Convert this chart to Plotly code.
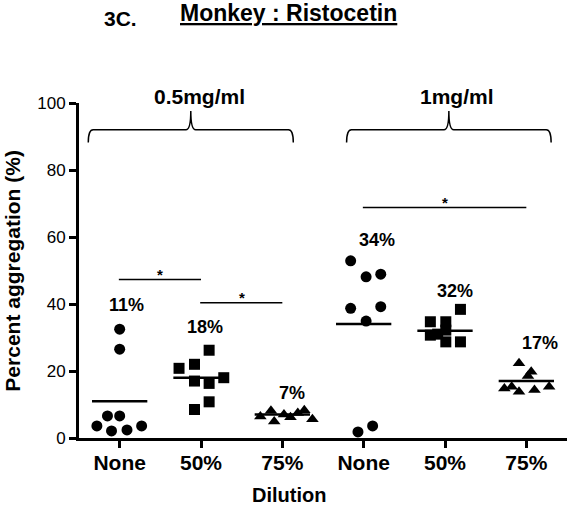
import plotly.graph_objects as go

# ---------------- data ----------------
positions = [1, 2, 3, 4, 5, 6]
tick_labels = ["None", "50%", "75%", "None", "50%", "75%"]
group_names = ["0.5mg/ml", "1mg/ml"]

none_05 = [32.5, 26.5, 3.6, 6.6, 6.6, 2.1, 2.4, 3.6]
d50_05 = [26.2, 22.0, 20.8, 17.0, 16.3, 18.0, 10.8, 8.5]
d75_05 = [6.4, 8.1, 4.9, 7.0, 6.2, 7.5, 8.3, 5.6]
none_1 = [52.9, 48.1, 48.9, 38.7, 39.2, 34.9, 1.8, 3.6]
d50_1 = [38.4, 34.7, 34.7, 30.7, 32.2, 28.7, 28.7, 31.0]
d75_1 = [22.3, 19.8, 18.5, 14.8, 15.3, 13.8, 14.3, 15.3]
series = [none_05, d50_05, d75_05, none_1, d50_1, d75_1]

means = [11, 18, 7, 34, 32, 17]
mean_labels = ["11%", "18%", "7%", "34%", "32%", "17%"]

# significance comparisons: (from position, to position, bar height)
sig_pairs = [(1, 2, 47.3), (2, 3, 40.4), (4, 6, 68.8)]

# ---------------- styling / layout helpers ----------------
jitter = [
    [0.0, 0.0, -0.28, -0.15, 0.0, -0.1, 0.09, 0.27],
    [0.1, -0.08, -0.27, -0.08, 0.1, 0.28, 0.1, -0.08],
    [-0.27, -0.14, -0.1, 0.02, 0.1, 0.19, 0.27, 0.37],
    [-0.16, 0.03, 0.21, -0.16, 0.21, 0.03, -0.07, 0.11],
    [0.19, -0.18, 0.01, -0.18, 0.01, 0.01, 0.19, -0.09],
    [-0.09, 0.06, 0.02, -0.27, -0.18, -0.09, 0.1, 0.28],
]
label_dx = [0.09, 0.05, 0.12, 0.16, 0.12, 0.17]
label_dy = [7.2, 6.8, 5.0, 6.1, 5.4, 6.1]
symbols = ["circle", "square", "triangle-up", "circle", "square", "triangle-up"]
FONT = "Arial, Liberation Sans, sans-serif"

fig = go.Figure()

for i, vals in enumerate(series):
    xs = [positions[i] + j for j in jitter[i]]
    fig.add_trace(go.Scatter(
        x=xs, y=vals, mode="markers",
        marker=dict(symbol=symbols[i], size=11, color="black", line=dict(width=0)),
        showlegend=False, cliponaxis=False, hoverinfo="y",
    ))
    # mean line
    fig.add_trace(go.Scatter(
        x=[positions[i] - 0.34, positions[i] + 0.34], y=[means[i], means[i]],
        mode="lines", line=dict(color="black", width=2.5),
        showlegend=False, hoverinfo="skip",
    ))
    fig.add_annotation(x=positions[i] + label_dx[i], y=max(vals) + label_dy[i],
                       text="<b>%s</b>" % mean_labels[i],
                       showarrow=False, font=dict(family=FONT, size=18, color="black"),
                       xanchor="center", yanchor="middle")

# significance bars
for (a, b, h) in sig_pairs:
    fig.add_shape(type="line", x0=a - 0.01, x1=b, y0=h, y1=h,
                  xref="x", yref="y", line=dict(color="black", width=1.5))
    fig.add_annotation(x=(a + b) / 2, y=h + 1.4, text="<b>*</b>", showarrow=False,
                       font=dict(family=FONT, size=15, color="black"),
                       xanchor="center", yanchor="middle")

# braces for concentration groups
def brace_path(x0, x1, xc, y_end, y_h, y_peak, dx=0.06):
    return (f"M {x0},{y_end} Q {x0},{y_h} {x0+dx},{y_h} "
            f"L {xc-dx},{y_h} Q {xc},{y_h} {xc},{y_peak} "
            f"Q {xc},{y_h} {xc+dx},{y_h} "
            f"L {x1-dx},{y_h} Q {x1},{y_h} {x1},{y_end}")

brace_spans = [(0.614, 3.135), (3.79, 6.305)]
brace_label_x = [0.2465, 0.774]
for (x0, x1), name, lx in zip(brace_spans, group_names, brace_label_x):
    xc = (x0 + x1) / 2
    fig.add_shape(type="path", path=brace_path(x0, x1, xc, 88.2, 92.0, 97.6),
                  xref="x", yref="y", line=dict(color="black", width=1.5))
    fig.add_annotation(xref="paper", yref="paper", x=lx, y=1.02, text="<b>%s</b>" % name,
                       showarrow=False, font=dict(family=FONT, size=21, color="black"),
                       xanchor="center", yanchor="middle")

# titles
fig.add_annotation(xref="paper", yref="paper", x=0.085, y=1.251, text="<b>3C.</b>",
                   showarrow=False, font=dict(family=FONT, size=21, color="black"),
                   xanchor="center", yanchor="middle")
fig.add_annotation(xref="paper", yref="paper", x=0.43, y=1.268,
                   text="<b><u>Monkey : Ristocetin</u></b>",
                   showarrow=False, font=dict(family=FONT, size=23, color="black"),
                   xanchor="center", yanchor="middle")

# axis titles
fig.add_annotation(xref="paper", yref="paper", x=0.43, y=-0.1716, text="<b>Dilution</b>",
                   showarrow=False, font=dict(family=FONT, size=20, color="black"),
                   xanchor="center", yanchor="middle")
fig.add_annotation(xref="paper", yref="paper", x=-0.137, y=0.5,
                   text="<b>Percent aggregation (%)</b>", textangle=-90,
                   showarrow=False, font=dict(family=FONT, size=21, color="black"),
                   xanchor="center", yanchor="middle")

fig.update_layout(
    width=570, height=507,
    margin=dict(l=79, r=3, t=103, b=69, autoexpand=False),
    plot_bgcolor="white", paper_bgcolor="white",
    font=dict(family=FONT, color="black"),
    xaxis=dict(
        range=[0.5, 6.5], tickvals=positions, ticktext=["<b>%s</b>" % t for t in tick_labels],
        showgrid=False, zeroline=False, showline=True, linecolor="black", linewidth=3,
        ticks="outside", ticklen=7, tickwidth=2.5, tickcolor="black",
        tickfont=dict(family=FONT, size=21, color="black"), automargin=False,
        ticklabelstandoff=-3,
    ),
    yaxis=dict(
        range=[0, 100], tickvals=[0, 20, 40, 60, 80, 100],
        showgrid=False, zeroline=False, showline=True, linecolor="black", linewidth=3,
        ticks="outside", ticklen=7, tickwidth=2.5, tickcolor="black",
        tickfont=dict(family=FONT, size=17, color="black"),
        tickprefix="<b>", ticksuffix="</b>", automargin=False,
    ),
)

# remove the default page margin so the figure sits at the window's top-left corner
fig.write_html("out.html", config={"displayModeBar": False},
               post_script="document.body.style.margin='0';")
